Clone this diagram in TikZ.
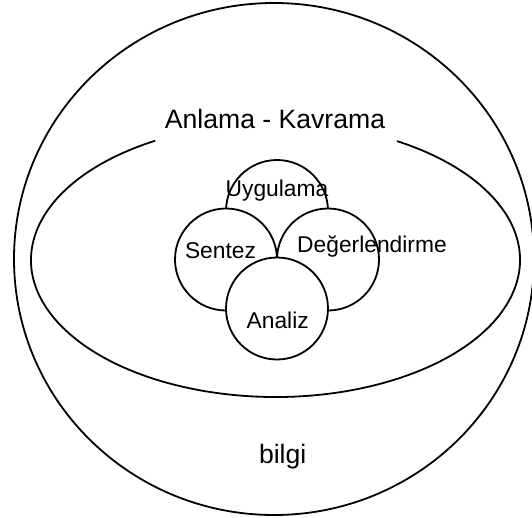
\documentclass[tikz,border=0pt]{standalone}
\usepackage{fontspec}
\setmainfont{Liberation Sans}
\tikzset{%
    ring/.style={draw=black, line width=1.8pt},
    disc/.style={ring, fill=white},
    biglabel/.style={anchor=base, inner sep=0pt, font=\fontsize{26.6}{30}\selectfont},
    smalllabel/.style={anchor=base, inner sep=0pt, font=\fontsize{22.8}{26}\selectfont}
}
\begin{document}
\begin{tikzpicture}[x=1pt, y=1pt]
    \useasboundingbox (0,0) rectangle (532,-517);
    % bilgi and Anlama - Kavrama
    \draw[ring] (274,-259) ellipse [x radius=260pt, y radius=256pt];
    \draw[ring] ([shift={(275.5,-260)}]119.5:244.5pt and 137pt)
        arc[start angle=119.5, end angle=420.2, x radius=244.5pt, y radius=137pt];
    % the four small circles, top one first
    \foreach \cx/\cy in {277/211, 226/259.5, 328/259.5, 277/308.5}
    {
    \draw[disc] (\cx,-\cy) circle (51pt);
    }
    \node[biglabel] (anlama) at (275,-128.3) {Anlama - Kavrama};
    \node[biglabel] (bilgi) at (282.7,-463.3) {bilgi};
    \node[smalllabel] (uygulama) at (277,-196.7) {Uygulama};
    \node[smalllabel] (sentez) at (220.5,-258) {Sentez};
    \node[smalllabel] (degerlendirme) at (372,-252) {Değerlendirme};
    \node[smalllabel] (analiz) at (277.7,-328.3) {Analiz};
\end{tikzpicture}
\end{document}
